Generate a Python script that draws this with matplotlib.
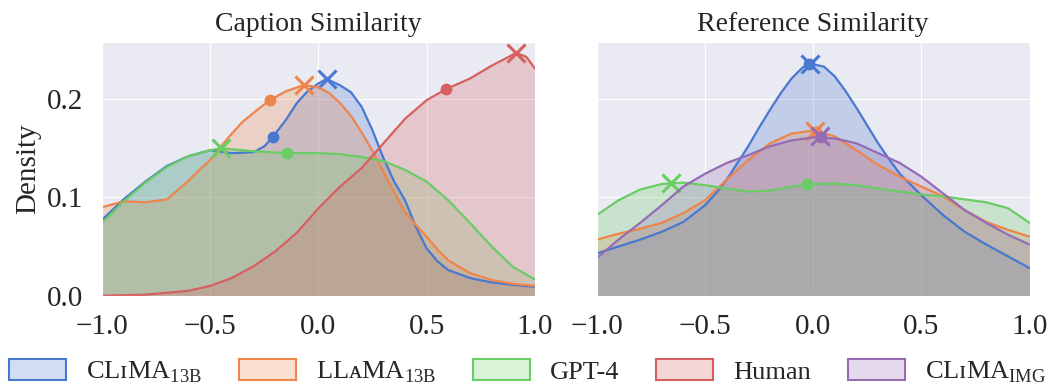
import matplotlib
matplotlib.use('Agg')
import matplotlib.pyplot as plt
import seaborn as sns
from matplotlib.patches import Patch

sns.set_style('darkgrid', {'grid.linewidth': 1.6})
plt.rcParams['font.family'] = ['Liberation Serif', 'DejaVu Serif']
plt.rcParams['mathtext.fontset'] = 'custom'
plt.rcParams['mathtext.rm'] = 'Liberation Serif'

# colours (seaborn muted)
c_blue, c_orange, c_green, c_red, c_purple = '#4878d0', '#ee854a', '#6acc64', '#d65f5f', '#956cb4'

# ---------------- Caption Similarity (left) ----------------
cap_x_clima = [-1.0, -0.9, -0.8, -0.7, -0.6, -0.5, -0.4, -0.3, -0.25, -0.211, -0.15, -0.1, -0.05, 0.0, 0.038, 0.1, 0.15, 0.2, 0.25, 0.3, 0.35, 0.4, 0.45, 0.5, 0.55, 0.6, 0.7, 0.8, 0.9, 1.0]
cap_y_clima = [0.077, 0.098, 0.116, 0.132, 0.142, 0.148, 0.145, 0.146, 0.152, 0.1615, 0.179, 0.196, 0.208, 0.216, 0.2205, 0.214, 0.207, 0.192, 0.168, 0.140, 0.116, 0.097, 0.070, 0.048, 0.035, 0.026, 0.018, 0.0135, 0.011, 0.009]
cap_x_llama = [-1.0, -0.9, -0.8, -0.7, -0.6, -0.55, -0.5, -0.45, -0.4, -0.35, -0.3, -0.226, -0.15, -0.068, 0.0, 0.05, 0.1, 0.15, 0.2, 0.25, 0.3, 0.35, 0.4, 0.45, 0.5, 0.55, 0.6, 0.7, 0.8, 0.9, 1.0]
cap_y_llama = [0.090, 0.096, 0.095, 0.098, 0.117, 0.128, 0.138, 0.152, 0.165, 0.177, 0.186, 0.1988, 0.208, 0.2143, 0.212, 0.206, 0.196, 0.183, 0.166, 0.147, 0.126, 0.105, 0.085, 0.072, 0.060, 0.047, 0.036, 0.023, 0.016, 0.012, 0.010]
cap_x_gpt = [-1.0, -0.9, -0.8, -0.7, -0.6, -0.5, -0.45, -0.3, -0.147, 0.0, 0.1, 0.2, 0.3, 0.4, 0.5, 0.6, 0.7, 0.8, 0.9, 1.0]
cap_y_gpt = [0.074, 0.096, 0.115, 0.131, 0.142, 0.148, 0.150, 0.147, 0.145, 0.145, 0.144, 0.141, 0.137, 0.128, 0.116, 0.097, 0.074, 0.050, 0.029, 0.0166]
cap_x_human = [-1.0, -0.8, -0.6, -0.5, -0.4, -0.3, -0.2, -0.1, 0.0, 0.1, 0.2, 0.3, 0.4, 0.5, 0.588, 0.7, 0.8, 0.913, 0.96, 1.0]
cap_y_human = [0.0, 0.001, 0.005, 0.010, 0.018, 0.030, 0.045, 0.064, 0.089, 0.111, 0.130, 0.155, 0.180, 0.199, 0.210, 0.221, 0.234, 0.247, 0.243, 0.231]

# mode (x) and mean (dot) markers
cap_modes = {'clima': (0.038, 0.2205), 'llama': (-0.068, 0.2143), 'gpt': (-0.45, 0.150), 'human': (0.913, 0.247)}
cap_means = {'clima': (-0.211, 0.1615), 'llama': (-0.226, 0.1988), 'gpt': (-0.147, 0.145), 'human': (0.588, 0.210)}

# ---------------- Reference Similarity (right) ----------------
ref_x = [-1.0, -0.9, -0.8, -0.7, -0.6, -0.5, -0.4, -0.3, -0.2, -0.1, 0.0, 0.1, 0.2, 0.3, 0.4, 0.5, 0.6, 0.7, 0.8, 0.9, 1.0]
ref_x_clima = [-1.0, -0.9, -0.8, -0.7, -0.6, -0.5, -0.45, -0.4, -0.35, -0.3, -0.25, -0.2, -0.15, -0.1, -0.05, -0.013, 0.05, 0.1, 0.15, 0.2, 0.25, 0.3, 0.35, 0.4, 0.5, 0.6, 0.7, 0.8, 0.9, 1.0]
ref_y_clima = [0.043, 0.050, 0.057, 0.065, 0.075, 0.092, 0.104, 0.118, 0.135, 0.152, 0.171, 0.189, 0.206, 0.221, 0.232, 0.236, 0.233, 0.223, 0.208, 0.191, 0.173, 0.155, 0.139, 0.124, 0.102, 0.082, 0.065, 0.052, 0.040, 0.028]
ref_y_llama = [0.057, 0.063, 0.068, 0.074, 0.084, 0.097, 0.118, 0.138, 0.155, 0.165, 0.168, 0.162, 0.148, 0.133, 0.121, 0.111, 0.101, 0.087, 0.075, 0.067, 0.060]
ref_y_gpt = [0.082, 0.097, 0.108, 0.1136, 0.115, 0.1125, 0.109, 0.106, 0.107, 0.111, 0.1136, 0.114, 0.1125, 0.109, 0.106, 0.103, 0.101, 0.098, 0.095, 0.089, 0.074]
ref_y_img = [0.038, 0.057, 0.074, 0.092, 0.111, 0.124, 0.135, 0.143, 0.152, 0.158, 0.161, 0.160, 0.155, 0.145, 0.135, 0.121, 0.104, 0.087, 0.074, 0.062, 0.052]

ref_modes = {'clima': (-0.013, 0.236), 'llama': (0.01, 0.168), 'gpt': (-0.656, 0.115), 'img': (0.033, 0.162)}
ref_means = {'clima': (-0.02, 0.236), 'llama': (0.015, 0.167), 'gpt': (-0.028, 0.1136), 'img': (0.035, 0.161)}

labels = ['CLɪMA$_{\\mathregular{13B}}$', 'LLᴀMA$_{\\mathregular{13B}}$', 'GPT-4', 'Human', 'CLɪMA$_{\\mathregular{IMG}}$']
colors = [c_blue, c_orange, c_green, c_red, c_purple]

fig = plt.figure(figsize=(10.5, 3.87), dpi=100)
ax1 = fig.add_axes([0.0971, 0.2359, 0.4124, 0.6548])
ax2 = fig.add_axes([0.5683, 0.2359, 0.4124, 0.6548], sharey=ax1)


def draw(ax, x, y, c, mode, mean):
    ax.fill_between(x, y, color=c, alpha=0.25, lw=0)
    ax.plot(x, y, color=c, lw=1.6)
    ax.plot(*mode, marker='x', color=c, ms=13, mew=2.2)
    ax.plot(*mean, marker='o', color=c, ms=7.5)


draw(ax1, cap_x_clima, cap_y_clima, c_blue, cap_modes['clima'], cap_means['clima'])
draw(ax1, cap_x_llama, cap_y_llama, c_orange, cap_modes['llama'], cap_means['llama'])
draw(ax1, cap_x_gpt, cap_y_gpt, c_green, cap_modes['gpt'], cap_means['gpt'])
draw(ax1, cap_x_human, cap_y_human, c_red, cap_modes['human'], cap_means['human'])

draw(ax2, ref_x_clima, ref_y_clima, c_blue, ref_modes['clima'], ref_means['clima'])
draw(ax2, ref_x, ref_y_llama, c_orange, ref_modes['llama'], ref_means['llama'])
draw(ax2, ref_x, ref_y_gpt, c_green, ref_modes['gpt'], ref_means['gpt'])
draw(ax2, ref_x, ref_y_img, c_purple, ref_modes['img'], ref_means['img'])

for ax in (ax1, ax2):
    ax.set_xlim(-1, 1)
    ax.set_xticks([-1.0, -0.5, 0.0, 0.5, 1.0])
    ax.tick_params(labelsize=21, pad=10)
ax1.set_ylim(0, 0.2578)
ax1.set_yticks([0.0, 0.1, 0.2])
ax2.tick_params(labelleft=False)
ax1.set_ylabel('Density', fontsize=21)
ax1.set_title('Caption Similarity', fontsize=20, pad=8)
ax2.set_title('Reference Similarity', fontsize=20, pad=8)

handles = [Patch(facecolor=matplotlib.colors.to_rgba(c, 0.25), edgecolor=c, lw=1.5) for c in colors]
fig.legend(handles, labels, loc='center', bbox_to_anchor=(0.5024, 0.038), ncol=5, frameon=False,
           fontsize=19, handlelength=2.16, handleheight=0.8, handletextpad=0.76, columnspacing=1.4)

fig.savefig('out.png', dpi=100)
